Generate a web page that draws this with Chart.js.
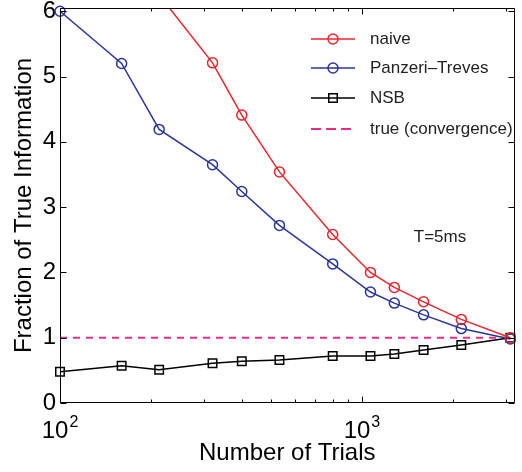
<!DOCTYPE html>
<html lang="en">
<head>
<meta charset="UTF-8">
<title>Fraction of True Information vs Number of Trials</title>
<script src="https://cdn.jsdelivr.net/npm/chart.js"></script>
<style>
  body { margin: 0; background: #fff; }
  canvas { display: block; }
</style>
</head>
<body>
<canvas id="chart" width="522" height="472"></canvas>
<script>
// number of trials used for each estimate
const trials = [100, 160, 213, 320, 400, 533, 800, 1067, 1280, 1600, 2133, 3100];
// fraction of the true information, one array per estimator
const naive = [8.6, 7.3, 6.25, 5.21, 4.41, 3.54, 2.58, 2.00, 1.77, 1.55, 1.28, 1.00];
const panzeriTreves = [6.00, 5.20, 4.19, 3.65, 3.24, 2.72, 2.13, 1.70, 1.53, 1.35, 1.14, 0.98];
const nsb = [0.48, 0.57, 0.51, 0.61, 0.64, 0.66, 0.72, 0.72, 0.75, 0.81, 0.89, 1.00];
// reference level the estimates converge to
const convergenceX = [100, 3100];
const convergenceY = [1, 1];
// decade labels on the log axis: base and exponent
const xDecades = [100, 1000];
const xExponents = ['2', '3'];
const yTickValues = [0, 1, 2, 3, 4, 5, 6];

const FONT = "'Liberation Sans', Arial, Helvetica, sans-serif";
Chart.defaults.font.family = FONT;
Chart.defaults.color = '#000';

const toPoints = (xs, ys) => xs.map((x, i) => ({ x: x, y: ys[i] }));

// matlab style box: frame on all four sides, ticks pointing inward
const boxAxes = {
  id: 'boxAxes',
  afterDatasetsDraw(chart) {
    const { ctx, chartArea: a, scales: { x, y } } = chart;
    const seg = (x1, y1, x2, y2) => {
      ctx.beginPath();
      ctx.moveTo(x1, y1);
      ctx.lineTo(x2, y2);
      ctx.stroke();
    };
    ctx.save();
    ctx.strokeStyle = '#000';
    ctx.lineWidth = 1;
    const L = Math.round(a.left) + 0.5, R = Math.round(a.right) - 0.5;
    const T = Math.round(a.top) + 0.5, B = Math.round(a.bottom) - 0.5;
    seg(L, T, R, T);
    seg(L, B, R, B);
    seg(L, T, L, B);
    seg(R, T, R, B);

    x.ticks.forEach(t => {
      const v = t.value;
      const p = Math.pow(10, Math.floor(Math.log10(v) + 1e-9));
      const m = v / p;
      if (Math.abs(m - Math.round(m)) > 1e-6) return;
      const len = Math.round(m) === 1 ? 6 : 3;
      const px = Math.round(x.getPixelForValue(v)) + 0.5;
      seg(px, B, px, B - len);
      seg(px, T, px, T + len);
    });
    yTickValues.forEach(v => {
      const py = Math.round(y.getPixelForValue(v)) + 0.5;
      seg(L, py, L + 6, py);
      seg(R, py, R - 6, py);
    });
    ctx.restore();
  },
  afterDraw(chart) {
    const { ctx, chartArea: a, scales: { x } } = chart;
    ctx.save();

    // 10^n labels under the log axis
    ctx.fillStyle = '#000';
    ctx.textBaseline = 'alphabetic';
    ctx.textAlign = 'left';
    xDecades.forEach((v, i) => {
      ctx.font = '24px ' + FONT;
      const base = '10';
      const wb = ctx.measureText(base).width;
      ctx.font = '16px ' + FONT;
      const we = ctx.measureText(xExponents[i]).width;
      const left = x.getPixelForValue(v) - (wb + 1 + we) / 2;
      ctx.font = '24px ' + FONT;
      ctx.fillText(base, left, a.bottom + 35);
      ctx.font = '16px ' + FONT;
      ctx.fillText(xExponents[i], left + wb + 1, a.bottom + 24);
    });

    // legend in the upper right corner
    const rows = [39, 68, 98, 129];
    chart.data.datasets.forEach((ds, i) => {
      const cy = rows[i];
      ctx.strokeStyle = ds.borderColor;
      ctx.lineWidth = ds.borderWidth;
      ctx.setLineDash(ds.legendDash || []);
      ctx.beginPath();
      ctx.moveTo(311, cy);
      ctx.lineTo(355, cy);
      ctx.stroke();
      ctx.setLineDash([]);
      if (ds.pointRadius > 0) {
        ctx.lineWidth = ds.pointBorderWidth;
        ctx.fillStyle = 'rgba(0,0,0,0)';
        Chart.helpers.drawPoint(ctx, {
          pointStyle: ds.pointStyle,
          radius: ds.pointRadius,
          borderWidth: ds.pointBorderWidth
        }, 333, cy);
      }
      ctx.fillStyle = '#222';
      ctx.font = '17px ' + FONT;
      ctx.textAlign = 'left';
      ctx.textBaseline = 'middle';
      ctx.fillText(ds.label, 370, cy);
    });
    ctx.font = '17px ' + FONT;
    ctx.fillStyle = '#222';
    ctx.textAlign = 'center';
    ctx.textBaseline = 'middle';
    ctx.fillText('T=5ms', 440, 237);
    ctx.restore();
  }
};

new Chart(document.getElementById('chart'), {
  type: 'line',
  data: {
    datasets: [
      {
        label: 'naive',
        data: toPoints(trials, naive),
        borderColor: '#e8262c',
        borderWidth: 1.5,
        pointStyle: 'circle',
        pointRadius: 5,
        pointBorderWidth: 1.5,
        pointBackgroundColor: 'rgba(0,0,0,0)',
        clip: { left: 8, top: 0, right: 8, bottom: 8 }
      },
      {
        label: 'Panzeri\u2013Treves',
        data: toPoints(trials, panzeriTreves),
        borderColor: '#2b3598',
        borderWidth: 1.5,
        pointStyle: 'circle',
        pointRadius: 5,
        pointBorderWidth: 1.5,
        pointBackgroundColor: 'rgba(0,0,0,0)',
        clip: false
      },
      {
        label: 'NSB',
        data: toPoints(trials, nsb),
        borderColor: '#000',
        borderWidth: 1.5,
        pointStyle: 'rect',
        pointRadius: 6,
        pointBorderWidth: 1.5,
        pointBackgroundColor: 'rgba(0,0,0,0)',
        clip: false
      },
      {
        label: 'true (convergence)',
        data: toPoints(convergenceX, convergenceY),
        borderColor: '#ec2a8c',
        borderWidth: 2,
        borderDash: [7, 6],
        legendDash: [10, 5],
        pointRadius: 0,
        clip: false
      }
    ]
  },
  options: {
    responsive: false,
    animation: false,
    layout: { padding: { top: 8, right: 0, left: 0, bottom: 0 } },
    plugins: { legend: { display: false }, tooltip: { enabled: false } },
    elements: { line: { tension: 0 } },
    scales: {
      x: {
        type: 'logarithmic',
        min: 100,
        max: 3200,
        afterFit(s) { s.height = 69; s.paddingLeft = 0; s.paddingRight = 0; },
        grid: { display: false, drawTicks: false },
        border: { display: false },
        ticks: { display: false },
        title: {
          display: true,
          text: 'Number of Trials',
          font: { size: 24 },
          padding: { top: 0, bottom: 4 }
        }
      },
      y: {
        min: 0,
        max: 6.05,
        afterFit(s) { s.width = 60; s.paddingTop = 0; s.paddingBottom = 0; },
        grid: { display: false, drawTicks: false },
        border: { display: false },
        ticks: {
          stepSize: 1,
          includeBounds: false,
          autoSkip: false,
          padding: 4,
          font: { size: 24 },
          callback: v => (yTickValues.includes(v) ? v : '')
        },
        title: {
          display: true,
          text: 'Fraction of True Information',
          font: { size: 24 },
          padding: { top: 10, bottom: 0 }
        }
      }
    }
  },
  plugins: [boxAxes]
});
</script>
</body>
</html>
